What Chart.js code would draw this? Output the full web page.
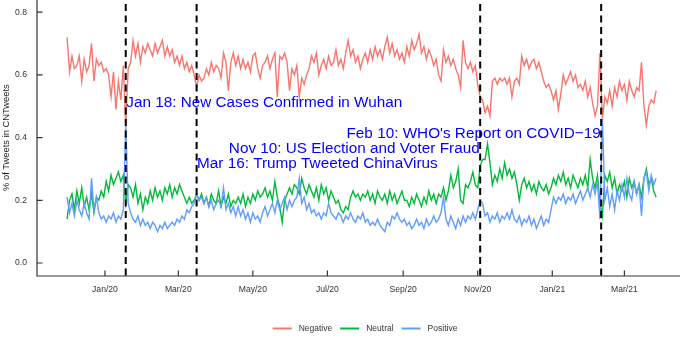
<!DOCTYPE html>
<html>
<head>
<meta charset="utf-8">
<script src="https://cdn.jsdelivr.net/npm/chart.js@4.4.1/dist/chart.umd.min.js"></script>
<style>
    html, body { margin: 0; padding: 0; background: #fff; }
    #wrap { width: 685px; height: 340px; }
</style>
</head>
<body>
<div id="wrap"><canvas id="chart" width="685" height="340"></canvas></div>
<script>
// Share of tweets per sentiment, read every other day from 1 Dec 2019.
// Days are counted from 1 Jan 2020 (day 0).
const firstDay = -31;
const dayStep = 2;

const negative = [
    0.72, 0.61, 0.66, 0.62, 0.63, 0.66, 0.58, 0.65, 0.61, 0.63,
    0.70, 0.58, 0.65, 0.63, 0.64, 0.61, 0.62, 0.60, 0.53, 0.61,
    0.49, 0.58, 0.52, 0.63, 0.44, 0.62, 0.64, 0.71, 0.66, 0.70,
    0.64, 0.69, 0.67, 0.70, 0.68, 0.66, 0.70, 0.67, 0.69, 0.71,
    0.66, 0.69, 0.66, 0.68, 0.64, 0.66, 0.63, 0.66, 0.62, 0.64,
    0.61, 0.63, 0.60, 0.56, 0.60, 0.58, 0.59, 0.62, 0.60, 0.64,
    0.61, 0.63, 0.62, 0.59, 0.67, 0.64, 0.55, 0.64, 0.67, 0.63,
    0.66, 0.62, 0.65, 0.62, 0.64, 0.61, 0.66, 0.67, 0.62, 0.59,
    0.63, 0.64, 0.66, 0.62, 0.65, 0.67, 0.53, 0.66, 0.65, 0.67,
    0.64, 0.55, 0.62, 0.60, 0.63, 0.53, 0.59, 0.57, 0.60, 0.62,
    0.66, 0.64, 0.67, 0.60, 0.63, 0.65, 0.62, 0.66, 0.63, 0.64,
    0.68, 0.63, 0.65, 0.62, 0.67, 0.71, 0.66, 0.68, 0.64, 0.66,
    0.62, 0.65, 0.67, 0.64, 0.68, 0.65, 0.69, 0.66, 0.68, 0.65,
    0.69, 0.72, 0.67, 0.70, 0.66, 0.68, 0.65, 0.67, 0.64, 0.69,
    0.66, 0.71, 0.68, 0.70, 0.73, 0.67, 0.69, 0.65, 0.68, 0.66,
    0.63, 0.65, 0.60, 0.58, 0.68, 0.64, 0.66, 0.63, 0.65, 0.62,
    0.60, 0.56, 0.71, 0.64, 0.62, 0.64, 0.61, 0.63, 0.57, 0.53,
    0.52, 0.48, 0.50, 0.47, 0.58, 0.59, 0.57, 0.59, 0.58, 0.59,
    0.57, 0.59, 0.53, 0.58, 0.59, 0.57, 0.66, 0.63, 0.65, 0.62,
    0.64, 0.65, 0.62, 0.64, 0.61, 0.58, 0.56, 0.57, 0.55, 0.52,
    0.55, 0.49, 0.54, 0.60, 0.57, 0.59, 0.61, 0.58, 0.60, 0.56,
    0.57, 0.55, 0.58, 0.53, 0.56, 0.51, 0.47, 0.50, 0.67, 0.46,
    0.53, 0.51, 0.55, 0.50, 0.56, 0.53, 0.58, 0.55, 0.57, 0.52,
    0.58, 0.55, 0.53, 0.56, 0.55, 0.64, 0.50, 0.44, 0.50, 0.52,
    0.51, 0.55
];

const neutral = [
    0.14, 0.20, 0.22, 0.17, 0.23, 0.19, 0.24, 0.18, 0.21, 0.17,
    0.22, 0.16, 0.21, 0.20, 0.23, 0.21, 0.26, 0.23, 0.28, 0.25,
    0.27, 0.29, 0.26, 0.28, 0.19, 0.25, 0.24, 0.21, 0.25, 0.19,
    0.22, 0.17, 0.21, 0.19, 0.23, 0.20, 0.24, 0.21, 0.23, 0.20,
    0.24, 0.22, 0.25, 0.21, 0.24, 0.22, 0.25, 0.23, 0.21, 0.19,
    0.21, 0.19, 0.20, 0.22, 0.20, 0.22, 0.19, 0.21, 0.18, 0.22,
    0.20, 0.19, 0.23, 0.18, 0.21, 0.19, 0.22, 0.18, 0.20, 0.19,
    0.21, 0.19, 0.22, 0.18, 0.21, 0.19, 0.22, 0.20, 0.23, 0.21,
    0.22, 0.24, 0.21, 0.23, 0.20, 0.26, 0.21, 0.18, 0.13, 0.20,
    0.22, 0.24, 0.22, 0.25, 0.24, 0.22, 0.27, 0.24, 0.22, 0.25,
    0.23, 0.21, 0.24, 0.20, 0.25, 0.22, 0.24, 0.20, 0.23, 0.21,
    0.19, 0.20, 0.17, 0.16, 0.18, 0.17, 0.21, 0.23, 0.21, 0.22,
    0.20, 0.22, 0.21, 0.23, 0.20, 0.22, 0.19, 0.23, 0.21, 0.20,
    0.22, 0.19, 0.23, 0.20, 0.22, 0.19, 0.21, 0.23, 0.20, 0.20,
    0.18, 0.21, 0.19, 0.22, 0.20, 0.18, 0.21, 0.19, 0.23, 0.20,
    0.22, 0.19, 0.22, 0.21, 0.24, 0.20, 0.23, 0.28, 0.24, 0.26,
    0.30, 0.20, 0.19, 0.25, 0.24, 0.26, 0.29, 0.25, 0.24, 0.31,
    0.33, 0.33, 0.38, 0.32, 0.25, 0.28, 0.26, 0.30, 0.27, 0.32,
    0.28, 0.30, 0.27, 0.29, 0.25, 0.20, 0.25, 0.27, 0.24, 0.26,
    0.23, 0.25, 0.22, 0.26, 0.24, 0.23, 0.25, 0.22, 0.24, 0.27,
    0.25, 0.28, 0.26, 0.29, 0.25, 0.27, 0.24, 0.28, 0.26, 0.24,
    0.27, 0.25, 0.28, 0.24, 0.33, 0.27, 0.24, 0.28, 0.19, 0.15,
    0.28, 0.26, 0.29, 0.24, 0.27, 0.22, 0.25, 0.23, 0.26, 0.21,
    0.27, 0.24, 0.26, 0.22, 0.25, 0.21, 0.27, 0.30, 0.25, 0.27,
    0.23, 0.21
];

const positive = [
    0.21, 0.16, 0.19, 0.15, 0.20, 0.17, 0.15, 0.19, 0.16, 0.14,
    0.27, 0.17, 0.21, 0.16, 0.14, 0.15, 0.13, 0.15, 0.14, 0.16,
    0.13, 0.15, 0.14, 0.17, 0.44, 0.19, 0.16, 0.14, 0.13, 0.15,
    0.12, 0.14, 0.12, 0.13, 0.11, 0.13, 0.12, 0.10, 0.12, 0.11,
    0.13, 0.11, 0.12, 0.13, 0.12, 0.14, 0.13, 0.15, 0.14, 0.17,
    0.16, 0.18, 0.19, 0.22, 0.20, 0.21, 0.19, 0.21, 0.18, 0.20,
    0.17, 0.19, 0.20, 0.18, 0.24, 0.17, 0.19, 0.16, 0.18, 0.15,
    0.18, 0.15, 0.17, 0.14, 0.16, 0.13, 0.16, 0.14, 0.15, 0.13,
    0.16, 0.18, 0.15, 0.17, 0.19, 0.16, 0.20, 0.17, 0.19, 0.21,
    0.17, 0.20, 0.18, 0.20, 0.21, 0.27, 0.19, 0.21, 0.17, 0.19,
    0.16, 0.17, 0.15, 0.16, 0.14, 0.16, 0.15, 0.19, 0.16, 0.15,
    0.14, 0.16, 0.15, 0.13, 0.15, 0.14, 0.16, 0.14, 0.13, 0.15,
    0.14, 0.16, 0.13, 0.14, 0.12, 0.13, 0.12, 0.14, 0.12, 0.11,
    0.10, 0.13, 0.12, 0.15, 0.14, 0.16, 0.14, 0.13, 0.14, 0.12,
    0.13, 0.11, 0.12, 0.14, 0.12, 0.13, 0.11, 0.14, 0.12, 0.13,
    0.15, 0.13, 0.14, 0.16, 0.21, 0.14, 0.12, 0.15, 0.13, 0.11,
    0.14, 0.12, 0.15, 0.13, 0.15, 0.14, 0.16, 0.14, 0.17, 0.20,
    0.19, 0.15, 0.16, 0.13, 0.15, 0.14, 0.16, 0.13, 0.15, 0.14,
    0.16, 0.14, 0.17, 0.14, 0.13, 0.15, 0.12, 0.14, 0.13, 0.15,
    0.12, 0.14, 0.11, 0.13, 0.15, 0.12, 0.14, 0.13, 0.17, 0.21,
    0.19, 0.21, 0.20, 0.22, 0.19, 0.21, 0.20, 0.22, 0.19, 0.21,
    0.23, 0.20, 0.22, 0.24, 0.21, 0.25, 0.22, 0.26, 0.14, 0.46,
    0.20, 0.24, 0.18, 0.22, 0.17, 0.23, 0.20, 0.25, 0.21, 0.27,
    0.22, 0.20, 0.26, 0.22, 0.25, 0.15, 0.27, 0.29, 0.23, 0.28,
    0.25, 0.27
];

const seriesNames = ['Negative', 'Neutral', 'Positive'];
const seriesColors = ['#F8766D', '#00BA38', '#619CFF'];

// first day of each labelled month, in days from 1 Jan 2020
const monthTicks = [0, 60, 121, 182, 244, 305, 366, 425];
const monthLabels = ['Jan/20', 'Mar/20', 'May/20', 'Jul/20', 'Sep/20', 'Nov/20', 'Jan/21', 'Mar/21'];
const yTicks = [0, 0.2, 0.4, 0.6, 0.8];

// events marked with dashed lines
const eventDays = [17, 75, 307, 406];
const eventLabels = [
    'Jan 18: New Cases Confirmed in Wuhan',
    'Mar 16: Trump Tweeted ChinaVirus',
    'Nov 10: US Election and Voter Fraud',
    'Feb 10: WHO\'s Report on COVID\u221219'
];
const eventLabelY = [0.497, 0.303, 0.351, 0.399];
const eventAlign = ['left', 'left', 'right', 'right'];

const FONT = '"Liberation Sans", Arial, Helvetica, sans-serif';
const AXIS_COLOR = '#333';

const toPoints = values => values.map((v, i) => ({ x: firstDay + dayStep * i, y: v }));

const framePlugin = {
    id: 'frame',
    afterDatasetsDraw(chart) {
        const { ctx, chartArea: area, scales: { x, y } } = chart;
        ctx.save();

        // axes with inward ticks
        ctx.strokeStyle = AXIS_COLOR;
        ctx.lineWidth = 1.2;
        ctx.beginPath();
        ctx.moveTo(area.left, area.top);
        ctx.lineTo(area.left, area.bottom);
        ctx.lineTo(area.right, area.bottom);
        monthTicks.forEach(d => {
            const px = x.getPixelForValue(d);
            ctx.moveTo(px, area.bottom);
            ctx.lineTo(px, area.bottom - 5.5);
        });
        yTicks.forEach(v => {
            const py = y.getPixelForValue(v);
            ctx.moveTo(area.left, py);
            ctx.lineTo(area.left + 5.5, py);
        });
        ctx.stroke();

        // event lines
        ctx.strokeStyle = '#000';
        ctx.lineWidth = 2;
        ctx.setLineDash([7, 4.5]);
        eventDays.forEach(d => {
            const px = x.getPixelForValue(d);
            ctx.beginPath();
            ctx.moveTo(px, area.top + 4);
            ctx.lineTo(px, area.bottom);
            ctx.stroke();
        });
        ctx.setLineDash([]);

        // event labels
        ctx.fillStyle = '#0000FF';
        ctx.font = '15.3px ' + FONT;
        ctx.textBaseline = 'alphabetic';
        eventDays.forEach((d, i) => {
            const px = x.getPixelForValue(d);
            ctx.textAlign = eventAlign[i];
            const shift = eventAlign[i] === 'left' ? 0.5 : -0.5;
            ctx.fillText(eventLabels[i], px + shift, y.getPixelForValue(eventLabelY[i]));
        });

        ctx.restore();
    },
    afterDraw(chart) {
        const { ctx, scales: { y } } = chart;
        ctx.save();

        // y axis title
        ctx.fillStyle = '#222';
        ctx.font = '9.4px ' + FONT;
        ctx.textAlign = 'center';
        ctx.textBaseline = 'middle';
        ctx.translate(6.5, y.getPixelForValue(0.4));
        ctx.rotate(-Math.PI / 2);
        ctx.fillText('% of Tweets in CNTweets', 0, 0);
        ctx.restore();

        // legend below the axis
        ctx.save();
        ctx.font = '8.5px ' + FONT;
        ctx.textBaseline = 'middle';
        ctx.textAlign = 'left';
        const widths = seriesNames.map(n => ctx.measureText(n).width);
        const total = widths.reduce((a, b) => a + b, 0) + seriesNames.length * 26 + (seriesNames.length - 1) * 8;
        let lx = 365 - total / 2;
        const ly = 328.5;
        seriesNames.forEach((name, i) => {
            ctx.strokeStyle = seriesColors[i];
            ctx.lineWidth = 2;
            ctx.beginPath();
            ctx.moveTo(lx, ly);
            ctx.lineTo(lx + 19, ly);
            ctx.stroke();
            ctx.fillStyle = '#333';
            ctx.fillText(name, lx + 26, ly);
            lx += 26 + widths[i] + 8;
        });
        ctx.restore();
    }
};

new Chart(document.getElementById('chart'), {
    type: 'line',
    data: {
        datasets: [
            { label: seriesNames[0], data: toPoints(negative), borderColor: seriesColors[0], order: 3 },
            { label: seriesNames[1], data: toPoints(neutral), borderColor: seriesColors[1], order: 2 },
            { label: seriesNames[2], data: toPoints(positive), borderColor: seriesColors[2], order: 1 }
        ]
    },
    options: {
        responsive: false,
        animation: false,
        devicePixelRatio: 1,
        layout: { padding: { left: 0, right: 5, top: 0, bottom: 0 } },
        elements: {
            point: { radius: 0 },
            line: { borderWidth: 1.4, tension: 0 }
        },
        plugins: {
            legend: { display: false },
            tooltip: { enabled: false }
        },
        scales: {
            x: {
                type: 'linear',
                min: -55.6,
                max: 470.5,
                grid: { display: false, drawTicks: false, tickLength: 0 },
                border: { display: false },
                afterBuildTicks: s => { s.ticks = monthTicks.map(v => ({ value: v })); },
                afterFit: s => { s.height = 64; s.paddingLeft = 0; s.paddingRight = 0; },
                ticks: {
                    autoSkip: false,
                    maxRotation: 0,
                    padding: 8,
                    color: AXIS_COLOR,
                    font: { family: FONT, size: 8.6 },
                    callback: (value, index) => monthLabels[index]
                }
            },
            y: {
                min: -0.0415,
                max: 0.839,
                grid: { display: false, drawTicks: false, tickLength: 0 },
                border: { display: false },
                afterBuildTicks: s => { s.ticks = yTicks.map(v => ({ value: v })); },
                afterFit: s => { s.width = 37; s.paddingTop = 0; s.paddingBottom = 0; },
                ticks: {
                    padding: 10,
                    color: AXIS_COLOR,
                    font: { family: FONT, size: 8.6 },
                    callback: value => value.toFixed(1)
                }
            }
        }
    },
    plugins: [framePlugin]
});
</script>
</body>
</html>
